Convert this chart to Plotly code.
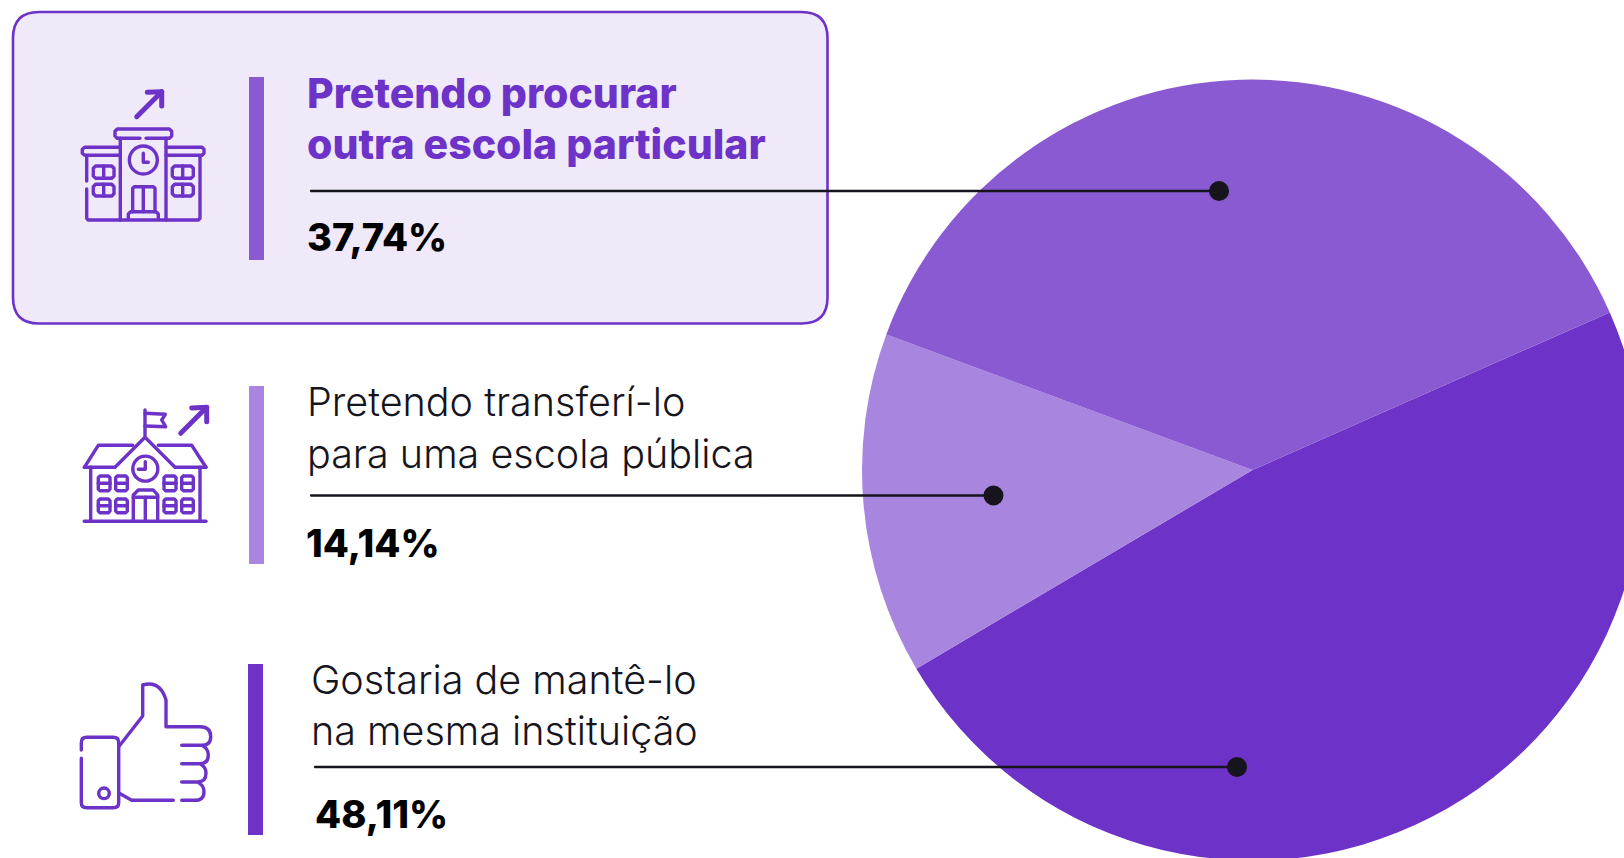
import plotly.graph_objects as go

categories = ["Gostaria de mantê-lo na mesma instituição", "Pretendo transferí-lo para uma escola pública", "Pretendo procurar outra escola particular"]
values = [48.11, 14.14, 37.74]
value_labels = ["48,11%", "14,14%", "37,74%"]
colors = ["#6D32C7", "#A885DE", "#895AD2"]
title_lines = [["Gostaria de mantê-lo", "na mesma instituição"], ["Pretendo transferí-lo", "para uma escola pública"], ["Pretendo procurar", "outra escola particular"]]

W, H = 1660, 862
PURPLE = "#6D32C7"
FONT = "Inter"
fig = go.Figure()
fig.add_trace(go.Pie(values=values, labels=categories, sort=False, direction="clockwise", rotation=66.2,
                     marker=dict(colors=colors, line=dict(width=0)), textinfo="none", hoverinfo="label+percent",
                     showlegend=False,
                     domain=dict(x=[862/W, 1643/W], y=[1-860.5/H, 1-79.5/H])))
fig.add_trace(go.Scatter(x=[0], y=[0], mode="markers", marker=dict(opacity=0), showlegend=False, hoverinfo="skip"))

shapes = []
SW = 3.4
def path(d, width=SW, color=PURPLE, fill=None, layer="above"):
    s = dict(type="path", path=d, line=dict(color=color, width=width), layer=layer, xref="x", yref="y")
    if fill: s["fillcolor"] = fill
    shapes.append(s)
def rect(x0, y0, x1, y1, fill):
    shapes.append(dict(type="rect", x0=x0, y0=y0, x1=x1, y1=y1, fillcolor=fill, line=dict(width=0), xref="x", yref="y", layer="above"))
def circle(cx, cy, r, line_w=None, fill=None):
    shapes.append(dict(type="circle", x0=cx-r, x1=cx+r, y0=cy-r, y1=cy+r, xref="x", yref="y", layer="above",
                       fillcolor=fill if fill else "rgba(0,0,0,0)",
                       line=dict(color=PURPLE if line_w else "rgba(0,0,0,0)", width=line_w or 0)))

def icon(ox, oy, polys, width=SW):
    """polys: list of zoom-space polylines (3x crop coords) turned into pixel paths."""
    for p in polys:
        pts = [(ox+x/3, oy+y/3) for x, y in p]
        path("M" + " L".join(f"{x:.1f},{y:.1f}" for x, y in pts), width=width)
def box(x0, y0, x1, y1, r=7):
    return [(x0+r, y0), (x1-r, y0), (x1, y0+r), (x1, y1-r), (x1-r, y1), (x0+r, y1), (x0, y1-r), (x0, y0+r), (x0+r, y0)]

# card
x0, y0, x1, y1, r = 13, 12, 827.5, 323.5, 26
card = (f"M{x0+r},{y0} L{x1-r},{y0} Q{x1},{y0} {x1},{y0+r} L{x1},{y1-r} Q{x1},{y1} {x1-r},{y1} "
        f"L{x0+r},{y1} Q{x0},{y1} {x0},{y1-r} L{x0},{y0+r} Q{x0},{y0} {x0+r},{y0} Z")
path(card, width=2.6, fill="#F0E9F9", layer="below")

# colour bars
rect(249, 77, 264, 260, colors[2])
rect(249, 386, 264, 564, colors[1])
rect(248, 664, 263, 835, colors[0])

# leader lines
for (lx0, lx1, ly) in [(311, 1219, 191), (311, 993.5, 495.5), (315, 1237, 767)]:
    shapes.append(dict(type="line", x0=lx0, x1=lx1, y0=ly, y1=ly, xref="x", yref="y", layer="above", line=dict(color="#16141C", width=2.3)))
    shapes.append(dict(type="circle", x0=lx1-10, x1=lx1+10, y0=ly-10, y1=ly+10, xref="x", yref="y", layer="above", fillcolor="#16141C", line=dict(width=0)))

# icon 1
icon(60, 70, [[(230, 140), (305, 65)], [(262, 67), (305, 65), (305, 108)]], width=5)
icon(60, 70, [
    [(240, 205), (172, 205), (165, 198), (165, 184), (172, 177), (328, 177), (335, 184), (335, 198), (328, 205), (258, 205)],
    [(181, 205), (181, 450)], [(318, 205), (318, 450)],
    [(181, 232), (74, 232), (67, 238), (67, 250), (74, 256), (181, 256)],
    [(318, 232), (426, 232), (432, 238), (432, 250), (426, 256), (318, 256)],
    [(80, 258), (80, 333)], [(80, 357), (80, 445), (85, 450), (415, 450), (420, 445), (420, 258)],
    [(250, 250), (250, 277), (265, 277)],
    box(100, 288, 162, 325), [(131, 288), (131, 325)], box(100, 343, 162, 378), [(131, 343), (131, 378)],
    box(337, 288, 400, 325), [(368, 288), (368, 325)], box(337, 343, 400, 378), [(368, 343), (368, 378)],
    [(218, 425), (218, 355), (223, 350), (280, 350), (285, 355), (285, 425)], [(250, 350), (250, 425)],
    [(205, 447), (205, 432), (212, 425), (288, 425), (295, 432), (295, 447)],
])
circle(60+250/3, 70+270/3, 14, line_w=SW)

# icon 2
windows2 = []
for wx0, wx1 in [(115, 150), (167, 202), (312, 348), (365, 400)]:
    for wy0, wy1 in [(288, 332), (357, 398)]:
        windows2 += [box(wx0, wy0, wx1, wy1, 5), [(wx0, (wy0+wy1)/2), (wx1, (wy0+wy1)/2)]]
icon(60, 380, [[(362, 160), (440, 82)], [(395, 84), (440, 82), (440, 125)]], width=5)
icon(60, 380, [
    [(255, 90), (255, 170)], [(255, 100), (316, 103), (305, 120), (317, 140), (255, 138)],
    [(73, 262), (115, 196), (218, 196)], [(295, 196), (395, 196), (438, 262)],
    [(73, 262), (165, 262), (255, 172), (345, 262), (438, 262)],
    [(92, 262), (92, 424)], [(420, 262), (420, 424)], [(73, 424), (438, 424)],
    [(256, 245), (256, 268), (235, 268)],
    [(220, 424), (220, 345), (235, 330), (280, 330), (293, 345), (293, 424)], [(220, 352), (293, 352)], [(256, 352), (256, 424)],
] + windows2)
circle(60+256/3, 380+266/3, 12.5, line_w=SW)

# icon 3
path("M81.3,750 L81.3,742.7 Q81.3,737.3 86.7,737.3 L113.3,737.3 Q118.7,737.3 118.7,742.7 L118.7,802.7 Q118.7,807.7 113.3,807.7 L86.7,807.7 Q81.3,807.7 81.3,802.7 L81.3,758.3")
circle(60+132/3, 660+400/3, 5.3, line_w=SW)
path("M119.3,746 L142.7,716 L142.7,685 Q160,680 166,700 L166,726.7 L200,726.7 Q210.7,726.7 210.7,736.7 Q210.7,745.3 201.7,745.3 L181.7,745.3 "
     "M201.7,745.3 Q208.3,748.3 208.3,755 Q208.3,763.7 200,763.7 L181.7,763.7 "
     "M200,763.7 Q206,766.7 206,773.3 Q206,782 197.3,782 L181.7,782 "
     "M197.3,782 Q204,785 204,791.7 Q204,800.3 195,800.3 L181.7,800.3 "
     "M173.3,800.3 L131.7,800.3 L119.3,793.3")

annos = []
def text(x, y, s, size, color, weight):
    annos.append(dict(x=x, y=y, xref="x", yref="y", text=s, xanchor="left", yanchor="middle", showarrow=False,
                      align="left", font=dict(family=FONT, size=size, color=color, weight=weight)))

text_pos = [(308.5, [680, 731], 313, 814), (305, [402, 454], 304, 543), (305, [93, 144], 305, 237)]
for i, (tx, ys, vx, vy) in enumerate(text_pos):
    hi = i == 2
    for line, y in zip(title_lines[i], ys):
        text(tx, y, line, 41 if hi else 39.5, PURPLE if hi else "#16141C", 800 if hi else 300)
    text(vx, vy, value_labels[i], 38, "#000000", 800)

fig.update_layout(width=W, height=H, margin=dict(l=0, r=0, t=0, b=0), paper_bgcolor="white", plot_bgcolor="rgba(0,0,0,0)",
                  xaxis=dict(range=[0, W], visible=False, fixedrange=True),
                  yaxis=dict(range=[H, 0], visible=False, fixedrange=True),
                  shapes=shapes, annotations=annos)
fig.write_html("out.html", post_script="document.documentElement.style.overflow='hidden';document.body.style.overflow='hidden';document.body.style.margin='0';"
    "var st=document.createElement('style');st.textContent='.shapelayer path{stroke-linecap:round;stroke-linejoin:round}';document.head.appendChild(st);",
    config=dict(displayModeBar=False))
